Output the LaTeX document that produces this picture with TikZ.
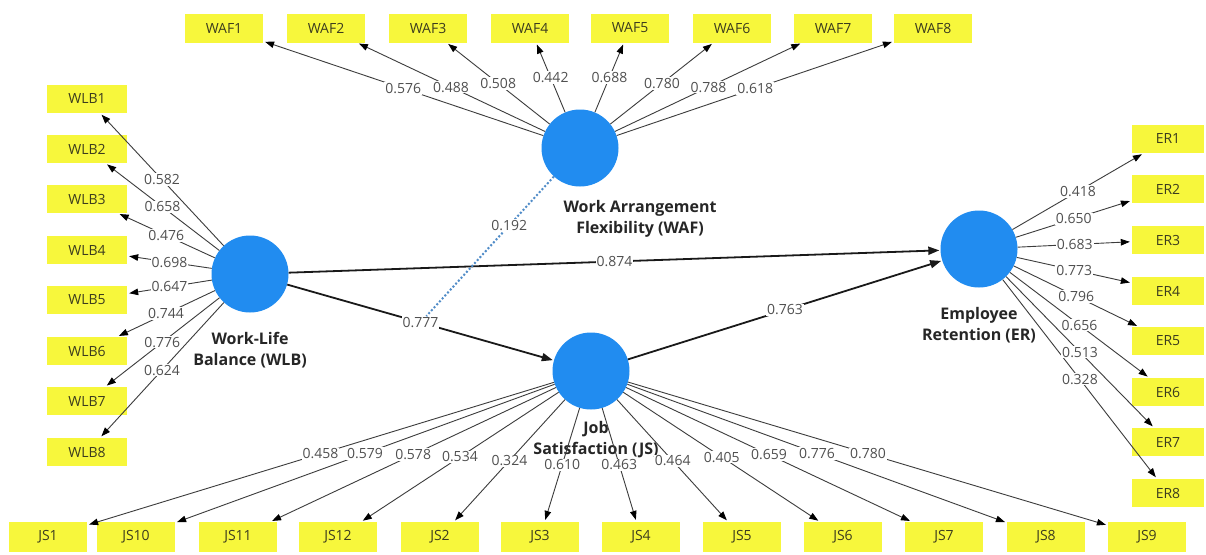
\documentclass[tikz,border=0pt]{standalone}
\usepackage{fontspec}
\setmainfont{Open Sans}
\usetikzlibrary{arrows.meta}
\definecolor{plsblue}{RGB}{33,140,240}
\definecolor{plsyellow}{RGB}{247,247,60}
\definecolor{lblgray}{RGB}{80,80,80}
\definecolor{linegray}{RGB}{60,60,60}
\definecolor{modblue}{RGB}{80,140,200}
\definecolor{boxtext}{RGB}{60,60,30}
\begin{document}
\begin{tikzpicture}[x=1pt,y=-1pt,
  lv/.style={circle, fill=plsblue, minimum size=77pt, inner sep=0pt},
  ind/.style={rectangle, fill=plsyellow, minimum width=78pt, minimum height=29pt, inner sep=0pt, text=boxtext, font=\fontsize{14}{14}\selectfont},
  lvtext/.style={font=\bfseries\fontsize{16}{21}\selectfont, align=center, text=black!85},
  ldg/.style={draw=linegray, line width=0.9pt, -{Triangle[length=9pt,width=6.5pt,color=black]}, shorten >=2pt},
  pathline/.style={draw=black!90, line width=1.8pt, -{Triangle[length=11pt,width=8pt]}, shorten >=1pt},
  lbl/.style={fill=white, inner sep=1pt, text=lblgray, font=\fontsize{14}{14}\selectfont},
  modline/.style={draw=modblue, line width=2pt, dash pattern=on 2pt off 2pt}]
\fill[white] (0,0) rectangle (1206,554);
\useasboundingbox (0,0) rectangle (1206,554);

% latent variables
\node[lv] (waf) at (580,148) {};
\node[lv] (wlb) at (250,274) {};
\node[lv] (er)  at (979,249) {};
\node[lv] (js)  at (591,371) {};

\node[lvtext] (waft) at (640,219) {Work Arrangement\\Flexibility (WAF)};
\node[lvtext] (wlbt) at (250,350) {Work-Life\\Balance (WLB)};
\node[lvtext] (ert)  at (979,325) {Employee\\Retention (ER)};
\node[lvtext] (jst)  at (596,440) {Job\\Satisfaction (JS)};

% indicators
\foreach \i/\x in {1/224,2/326,3/428,4/530,5/630,6/732,7/833,8/933}
  \node[ind] (waf\i) at (\x,28) {WAF\i};
\foreach \i/\y in {1/99,2/149,3/199,4/250,5/300,6/351,7/401,8/452}
  \node[ind, minimum width=80pt, minimum height=28pt] (wlb\i) at (87,\y) {WLB\i};
\foreach \i/\y in {1/139,2/189,3/240,4/291,5/341,6/392,7/442,8/493}
  \node[ind, minimum width=72pt, minimum height=28pt] (er\i) at (1168,\y) {ER\i};
\foreach \i/\x in {1/48,10/136,11/238,12/338,2/440,3/540,4/641,5/742,6/843,7/944,8/1046,9/1147}
  \node[ind, minimum height=30pt] (js\i) at (\x,537) {JS\i};

% outer loadings
\foreach \i in {1,...,8} {
  \draw[ldg] (waf) -- (waf\i);
  \draw[ldg] (wlb) -- (wlb\i);
  \draw[ldg] (er) -- (er\i);
}
\foreach \i in {1,...,12}
  \draw[ldg] (js) -- (js\i);

% structural paths
\draw[pathline] (wlb) -- (er);
\draw[pathline] (wlb) -- (js);
\draw[pathline] (js) -- (er);

% labels
\foreach \i/\v in {1/0.576,2/0.488,3/0.508,4/0.442,5/0.688,6/0.780,7/0.788,8/0.618}
  \path (waf) -- node[lbl] {\v} (waf\i);
\foreach \i/\v in {1/0.582,2/0.658,3/0.476,4/0.698,5/0.647,6/0.744,7/0.776,8/0.624}
  \path (wlb) -- node[lbl] {\v} (wlb\i);
\foreach \i/\v in {1/0.418,2/0.650,3/0.683,4/0.773,5/0.796,6/0.656,7/0.513,8/0.328}
  \path (er) -- node[lbl] {\v} (er\i);
\foreach \i/\v in {1/0.458,10/0.579,11/0.578,12/0.534,2/0.324,3/0.610,4/0.463,5/0.464,6/0.405,7/0.659,8/0.776,9/0.780}
  \path (js) -- node[lbl] {\v} (js\i);

\path (wlb) -- node[lbl] (l874) {0.874} (er);
\path (wlb) -- node[lbl] (l777) {0.777} (js);
\path (js) -- node[lbl] (l763) {0.763} (er);

% moderating effect
\draw[modline] (waf) -- node[lbl, pos=0.35] (l192) {0.192} (l777);
\end{tikzpicture}
\end{document}
